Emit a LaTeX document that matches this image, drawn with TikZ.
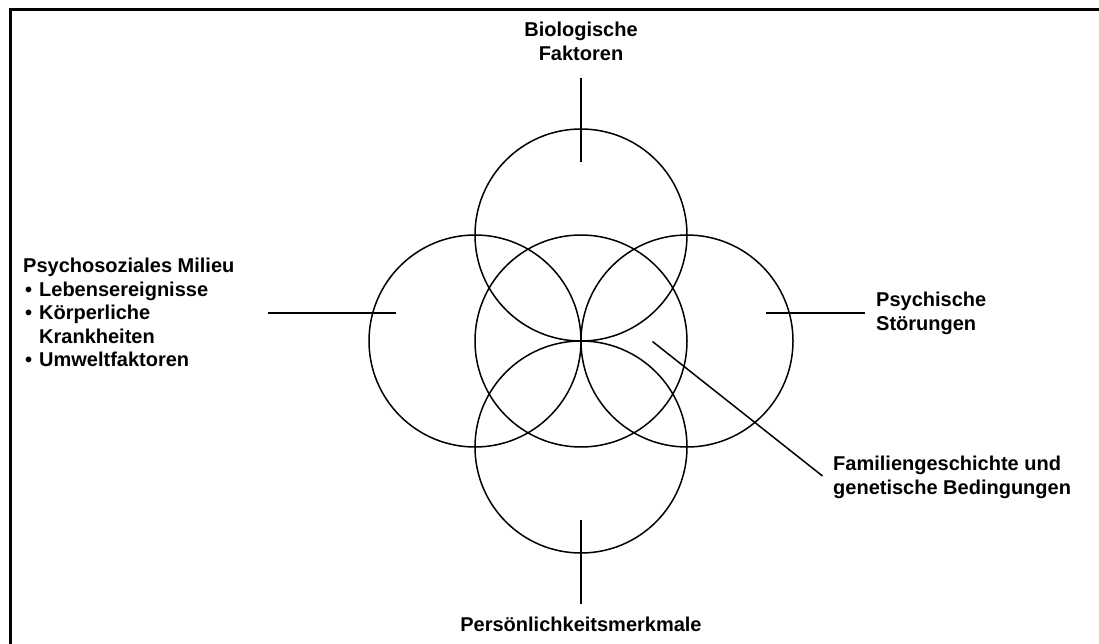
\documentclass[tikz,border=0pt]{standalone}
\usepackage{fontspec}
\setmainfont{Liberation Sans}
\usetikzlibrary{positioning}

\begin{document}
\begin{tikzpicture}[x=1pt, y=-1pt,
    ring/.style={circle, draw, line width=1.5pt, minimum size=212pt, inner sep=0pt, outer sep=0pt},
    factor/.style={font=\bfseries\fontsize{20}{23.5}\selectfont, inner sep=0pt},
    pointer/.style={line width=1.5pt},
    frame/.style={line width=3pt}]

    \useasboundingbox (0,0) rectangle (1099,644);

    % Frame
    \begin{scope}
        \clip (0,0) rectangle (1099,644);
        \draw[frame] (10,10) rectangle (1120,670);
    \end{scope}

    % Circles
    \node[ring] (core) at (581,341) {};
    \node[ring] (ring_top) at (581,235) {};
    \node[ring] (ring_left) at (475,341) {};
    \node[ring] (ring_right) at (687,341) {};
    \node[ring] (ring_bottom) at (581,447) {};

    % Biologische Faktoren
    \node[factor, align=center, anchor=base] (bio) at (581,60.5) {Biologische\\Faktoren};
    \coordinate (bio_a) at (581,78);
    \coordinate (bio_b) at (581,162);
    \draw[pointer] (bio_a) -- (bio_b);

    % Persoenlichkeitsmerkmale
    \node[factor, anchor=base] (pers) at (581,631.5) {Persönlichkeitsmerkmale};
    \coordinate (pers_a) at (581,520);
    \coordinate (pers_b) at (581,604);
    \draw[pointer] (pers_a) -- (pers_b);

    % Psychosoziales Milieu
    \node[factor, align=left, anchor=base west] (milieu) at (23,366.5) {Psychosoziales Milieu\\
        \makebox[16pt][l]{\hspace*{2pt}\textbullet}Lebensereignisse\\
        \makebox[16pt][l]{\hspace*{2pt}\textbullet}Körperliche\\
        \hspace*{16pt}Krankheiten\\
        \makebox[16pt][l]{\hspace*{2pt}\textbullet}Umweltfaktoren};
    \coordinate (milieu_a) at (268,313);
    \coordinate (milieu_b) at (396,313);
    \draw[pointer] (milieu_a) -- (milieu_b);

    % Psychische Stoerungen
    \node[factor, align=left, anchor=base west] (psych) at (876,330) {Psychische\\Störungen};
    \coordinate (psych_a) at (766,313);
    \coordinate (psych_b) at (865,313);
    \draw[pointer] (psych_a) -- (psych_b);

    % Familiengeschichte
    \node[factor, align=left, anchor=base west] (fam) at (833,494) {Familiengeschichte und\\genetische Bedingungen};
    \coordinate (fam_a) at (652.5,341.5);
    \coordinate (fam_b) at (822.5,476);
    \draw[pointer] (fam_a) -- (fam_b);

\end{tikzpicture}
\end{document}
